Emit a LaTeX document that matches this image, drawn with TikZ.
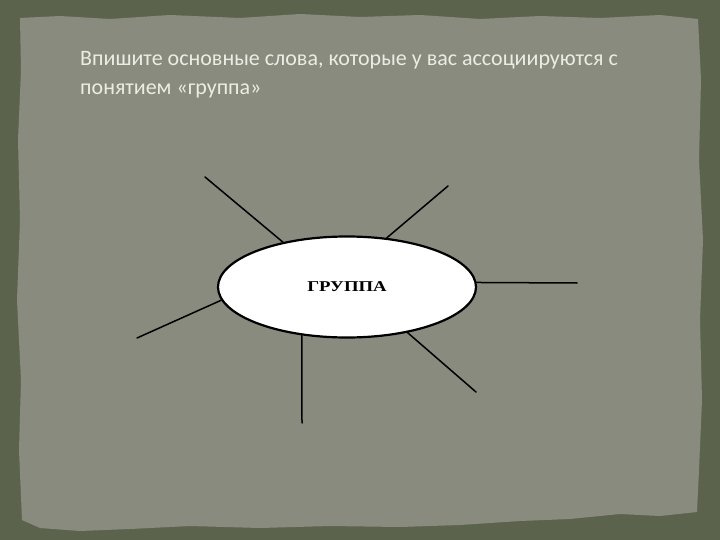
\documentclass[tikz,border=0pt]{standalone}
\usepackage{fontspec}
\setmainfont{Carlito}
\newfontfamily\grpfont[FakeStretch=1.25]{Liberation Serif}
\usetikzlibrary{shapes.geometric}
\definecolor{frameolive}{HTML}{5C634D}
\definecolor{panelgray}{HTML}{888B7E}
\definecolor{headwhite}{HTML}{ECECE4}

\begin{document}
\begin{tikzpicture}[line cap=round,line join=round,x=1pt,y=-1pt]
	\useasboundingbox (0,0) rectangle (720,540);
	\fill[color=frameolive] (0,0) rectangle (720,540);
	% torn paper panel
	\fill[color=panelgray] (20,18) -- (60,16) -- (110,19) -- (170,15) -- (240,18) -- (300,14) -- (360,17) -- (420,15) -- (480,19) -- (540,16) -- (600,18) -- (660,15) -- (698,19)
		-- (701,80) -- (699,160) -- (703,240) -- (700,320) -- (702,400) -- (699,470) -- (697,512)
		-- (660,516) -- (620,514) -- (570,519) -- (520,521) -- (460,525) -- (400,527) -- (330,526) -- (260,528) -- (190,526) -- (130,529) -- (80,531) -- (40,528) -- (22,520)
		-- (19,450) -- (21,380) -- (17,300) -- (20,220) -- (18,140) -- (21,70) -- cycle;
	% heading
	\node[anchor=base west,inner sep=0pt,text=headwhite,font=\fontsize{22}{26}\selectfont] (head1) at (80,66) {Впишите основные слова, которые у вас ассоциируются с};
	\node[anchor=base west,inner sep=0pt,text=headwhite,font=\fontsize{22}{26}\selectfont] (head2) at (80,95) {понятием «группа»};
	% ellipse and rays
	\node[ellipse,draw=black,line width=2.2pt,fill=white,minimum width=258pt,minimum height=101pt,inner sep=0pt,font=\grpfont\bfseries\fontsize{15}{17}\selectfont] (grp) at (347,287) {ГРУППА};
	\coordinate (e1) at (205,177);
	\coordinate (e2) at (448,186);
	\coordinate (e3) at (577,283);
	\coordinate (e4) at (476,392);
	\coordinate (e5) at (302,423);
	\coordinate (e6) at (137,338);
	\draw [line width=1.5pt] (grp.145) -- (e1);
	\draw [line width=1.5pt] (grp.51) -- (e2);
	\draw [line width=1.5pt] (grp.2) -- (e3);
	\draw [line width=1.5pt] (grp.-37) -- (e4);
	\draw [line width=1.5pt] (grp.227) -- (e5);
	\draw [line width=1.5pt] (grp.186) -- (e6);
\end{tikzpicture}
\end{document}
